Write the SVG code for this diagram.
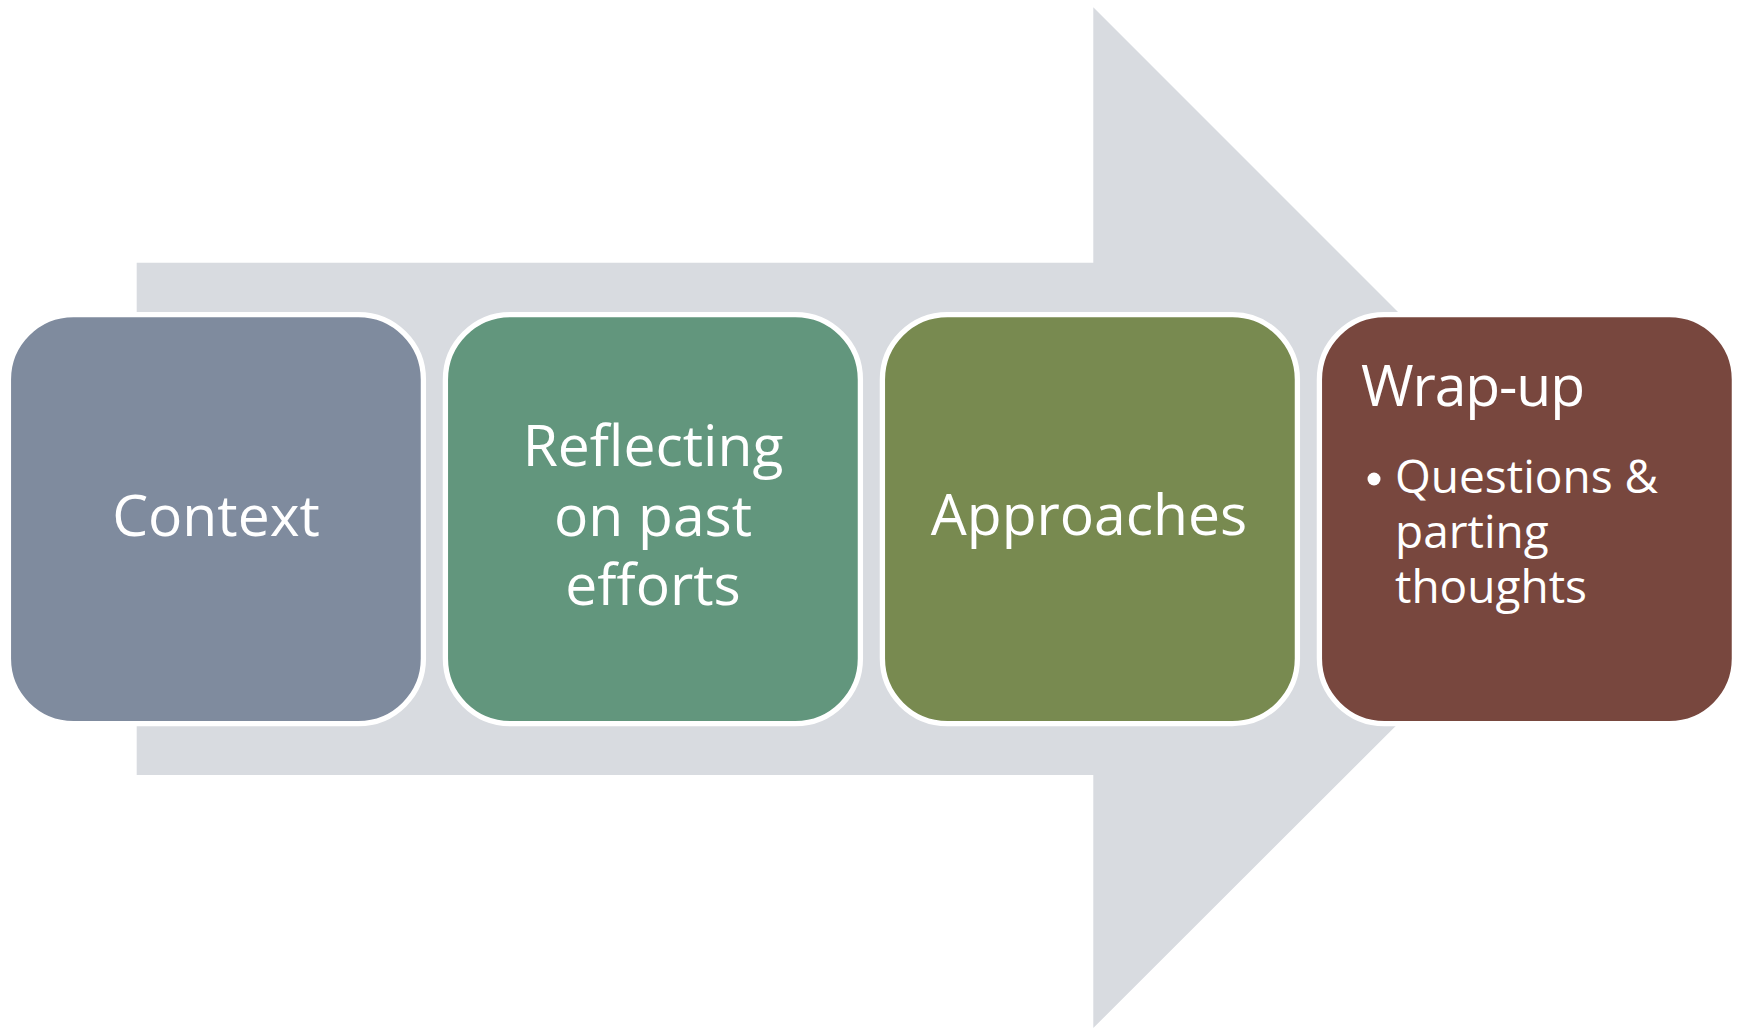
<svg xmlns="http://www.w3.org/2000/svg" width="1739" height="1028" viewBox="0 0 1739 1028">
<style>
.box{stroke:#FFFFFF;stroke-width:5.3}
.t{font-family:"Open Sans","Noto Sans",sans-serif;fill:#FFFFFF;font-size:57px}
.c{text-anchor:middle}
.s{font-size:46px}
</style>
<rect width="1739" height="1028" fill="#FFFFFF"/>
<g id="arrow">
<polygon points="136.7,262.7 1093.3,262.7 1093.3,7.3 1604,518 1093.3,1028 1093.3,775 136.7,775" fill="#D8DBE0"/>
</g>
<g id="connectors"></g>
<g id="node-context">
<rect class="box" x="8.4" y="314.6" width="415" height="409" rx="65" fill="#7F8B9E"/>
<text class="t c" x="216" y="536">Context</text>
</g>
<g id="node-reflecting">
<rect class="box" x="445.4" y="314.6" width="415" height="409" rx="65" fill="#62967D"/>
<text class="t c" x="653" y="466">Reflecting</text>
<text class="t c" x="653" y="536">on past</text>
<text class="t c" x="653" y="605">efforts</text>
</g>
<g id="node-approaches">
<rect class="box" x="882.4" y="314.6" width="415" height="409" rx="65" fill="#788A50"/>
<text class="t c" x="1089" y="535">Approaches</text>
</g>
<g id="node-wrapup">
<rect class="box" x="1319.4" y="314.6" width="415" height="409" rx="65" fill="#78473E"/>
<text class="t" x="1361" y="406" textLength="224">Wrap-up</text>
<circle cx="1374" cy="479" r="6.5" fill="#FFFFFF"/>
<text class="t s" x="1395" y="493">Questions &amp;</text>
<text class="t s" x="1395" y="548">parting</text>
<text class="t s" x="1395" y="603">thoughts</text>
</g>
</svg>
